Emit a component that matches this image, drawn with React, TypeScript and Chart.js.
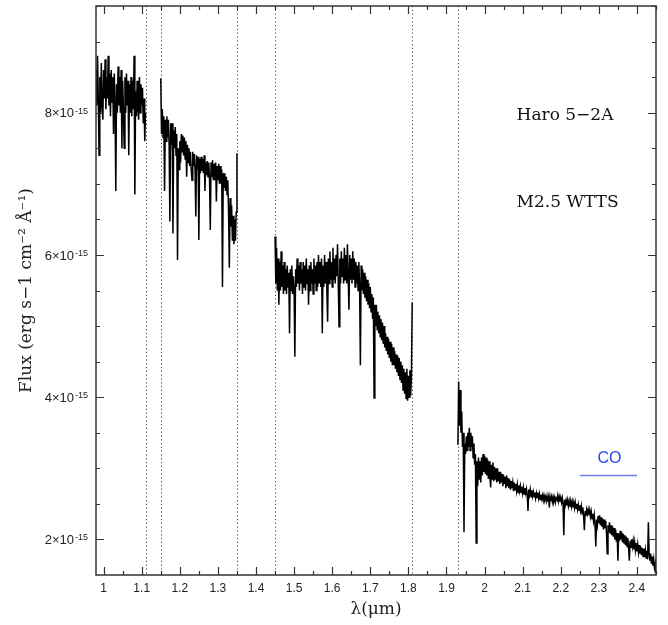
import React, { useEffect, useRef } from "react";
import { Chart, registerables } from "chart.js";

Chart.register(...registerables);

// Wavelength sampling of the extracted spectrum (micron)
const STEP = 0.002;

// Flux (10^-15 erg s-1 cm-2 A-1) per order, sampled every STEP from its start
const order1Start = 0.98;
const order1Flux = [
  8.6, 8.1, 8.8, 8.2, 7.4, 8.5, 8.0, 8.7, 8.1, 7.9,
  8.6, 8.2, 8.75, 8.05, 8.5, 8.2, 8.8, 8.1, 8.55, 7.95,
  8.6, 8.15, 8.5, 7.7, 8.55, 8.1, 6.9, 8.4, 8.0, 8.65,
  8.1, 8.5, 8.0, 8.6, 7.5, 8.45, 8.05, 7.5, 8.5, 8.0,
  8.55, 8.1, 8.45, 7.4, 8.4, 8.0, 8.5, 7.95, 8.45, 8.05,
  8.8, 6.85, 8.3, 7.95, 8.45, 8.05, 7.9, 8.5, 8.0, 8.4,
  8.1, 8.35, 7.85, 8.2, 7.6, 8.0,
];

const order2Start = 1.15;
const order2Flux = [
  8.48, 7.7, 8.05, 7.65, 7.95, 6.9, 7.9, 7.6, 7.95, 7.65,
  7.9, 7.55, 6.47, 7.85, 7.55, 7.85, 6.3, 7.75, 7.5, 7.8,
  7.4, 7.7, 5.93, 7.5, 7.2, 7.6, 7.3, 7.7, 7.45, 7.68,
  7.4, 7.65, 7.35, 7.6, 7.1, 7.55, 7.3, 7.5, 7.25, 7.45,
  7.2, 7.05, 7.45, 7.25, 7.42, 7.2, 6.54, 7.4, 7.2, 7.38,
  6.21, 7.35, 7.15, 7.38, 7.18, 7.35, 7.15, 7.4, 6.9, 7.3,
  7.12, 7.32, 7.1, 7.3, 7.08, 6.35, 7.3, 7.1, 7.33, 7.05,
  7.28, 7.05, 7.3, 6.75, 7.25, 7.05, 7.28, 7.0, 7.25, 7.0,
  7.2, 5.55, 7.15, 6.95, 7.15, 6.9, 7.1, 6.85, 7.05, 6.6,
  5.82, 6.8, 6.4, 6.7, 6.2, 6.55, 6.15, 6.5, 6.2, 6.6,
  7.43,
];

const order3Start = 1.45;
const order3Flux = [
  6.26, 5.6, 6.1, 5.5, 5.95, 5.3, 5.9, 5.5, 6.05, 5.55,
  5.85, 5.45, 5.9, 5.5, 5.8, 5.45, 5.85, 5.55, 5.75, 4.9,
  5.8, 5.5, 5.85, 5.45, 5.7, 5.5, 4.57, 5.8, 5.55, 5.95,
  5.6, 5.85, 5.5, 5.9, 5.6, 5.8, 5.45, 5.9, 5.55, 5.85,
  5.5, 5.95, 5.6, 5.8, 5.3, 5.85, 5.5, 5.9, 5.6, 5.8,
  5.45, 5.95, 5.6, 5.85, 5.5, 5.9, 5.55, 6.0, 5.6, 5.9,
  5.55, 5.95, 4.9, 5.85, 5.55, 6.0, 5.6, 5.9, 5.5, 5.06,
  5.95, 5.6, 6.05, 5.65, 5.9, 5.55, 6.1, 5.65, 5.95, 5.6,
  6.0, 5.7, 6.15, 5.6, 4.99, 5.95, 5.6, 6.05, 5.7, 5.95,
  5.6, 6.1, 5.65, 6.0, 5.6, 6.15, 5.7, 5.23, 6.0, 5.65,
  5.95, 5.6, 6.05, 5.65, 5.95, 5.55, 5.9, 5.6, 5.85, 5.5,
  5.9, 5.55, 4.45, 5.85, 5.5, 5.8, 5.45, 5.75, 5.4, 5.7,
  5.35, 5.65, 5.3, 5.6, 5.25, 5.55, 5.2, 5.45, 5.1, 5.4,
  3.99, 5.3, 5.0, 5.3, 4.95, 5.2, 4.9, 5.15, 4.85, 5.1,
  4.8, 5.05, 4.75, 5.0, 4.7, 4.9, 4.65, 4.85, 4.6, 4.82,
  4.55, 4.78, 4.5, 4.75, 4.45, 4.7, 4.45, 4.65, 4.4, 4.6,
  4.35, 4.58, 4.3, 4.55, 4.25, 4.5, 4.2, 4.45, 4.1, 4.4,
  4.05, 4.35, 3.98, 4.4, 3.95, 4.3, 4.0, 4.38, 4.02, 4.3,
  5.33,
];

const order4Start = 1.93;
const order4Flux = [
  3.33, 4.22, 3.6, 4.1, 3.5, 3.8, 3.3, 3.5, 2.1, 3.35,
  3.2, 3.45, 3.25, 3.5, 3.3, 3.57, 3.25, 3.5, 3.3, 3.45,
  3.15, 3.35, 3.05, 3.2, 1.95, 3.1, 2.75, 3.15, 2.85, 3.1,
  2.8, 3.15, 2.9, 3.2, 2.95, 3.18, 2.92, 3.15, 2.9, 3.12,
  2.85, 3.1, 2.88, 2.73, 3.05, 2.85, 3.08, 2.82, 3.02, 2.85,
  3.0, 2.8, 3.0, 2.82, 2.95, 2.78, 2.95, 2.8, 2.92, 2.75,
  2.9, 2.78, 2.88, 2.72, 2.9, 2.75, 2.86, 2.72, 2.84, 2.7,
  2.82, 2.72, 2.8, 2.68, 2.8, 2.7, 2.78, 2.68, 2.77, 2.66,
  2.76, 2.68, 2.75, 2.66, 2.74, 2.65, 2.73, 2.64, 2.72, 2.65,
  2.71, 2.62, 2.4, 2.7, 2.63, 2.7, 2.6, 2.69, 2.61, 2.67,
  2.6, 2.66, 2.58, 2.65, 2.59, 2.66, 2.58, 2.64, 2.56, 2.63,
  2.57, 2.62, 2.55, 2.62, 2.56, 2.6, 2.54, 2.61, 2.53, 2.59,
  2.45, 2.6, 2.54, 2.6, 2.53, 2.6, 2.54, 2.59, 2.52, 2.58,
  2.56, 2.62, 2.54, 2.6, 2.53, 2.59, 2.52, 2.58, 2.5, 2.06,
  2.56, 2.49, 2.55, 2.48, 2.55, 2.47, 2.54, 2.46, 2.54, 2.46,
  2.53, 2.45, 2.52, 2.44, 2.52, 2.44, 2.5, 2.42, 2.49, 2.41,
  2.48, 2.4, 2.47, 2.36, 2.45, 2.32, 2.13, 2.4, 2.33, 2.42,
  2.36, 2.42, 2.34, 2.41, 2.32, 2.39, 2.29, 2.36, 2.26, 2.34,
  2.2, 1.9, 2.28, 2.2, 2.33, 2.23, 2.34, 2.2, 2.31, 2.18,
  2.29, 2.14, 2.28, 2.16, 2.26, 2.1, 1.8, 2.2, 2.1, 2.24,
  2.08, 2.2, 2.06, 2.18, 2.04, 2.16, 2.0, 2.14, 1.97, 2.09,
  1.7, 2.08, 1.98, 2.12, 2.0, 2.1, 1.96, 2.08, 1.95, 2.06,
  1.92, 2.04, 1.9, 2.02, 1.88, 1.7, 1.98, 1.88, 2.0, 1.9,
  1.98, 1.86, 1.96, 1.85, 1.95, 1.83, 1.93, 1.82, 1.92, 1.8,
  1.9, 1.78, 1.88, 1.76, 1.87, 1.75, 1.85, 1.74, 1.84, 1.72,
  2.24, 1.8, 1.7, 1.8, 1.66, 1.76, 1.63, 1.72, 1.6, 1.66,
  1.53,
];

// Order boundaries (dotted markers), micron
const orderEdges = [1.11, 1.15, 1.35, 1.45, 1.81, 1.93];

// CO band-head region and its label
const coRange = [2.25, 2.4];
const coLevel = 2.9;
const coLabel = "CO";

// Object name and classification
const objectName = "Haro 5\u22122A";
const objectClass = "M2.5 WTTS";

// Axis ranges and labelled ticks (flux in units of 10^-15)
const xRange = [0.98, 2.45];
const yRange = [1.5, 9.5];
const yTickValues = [2, 4, 6, 8];
const yTickExponent = "-15";

const SERIF = "'DejaVu Serif', serif";
const SANS = "'Liberation Sans', 'DejaVu Sans', sans-serif";

const supDigits: Record<string, string> = {
  "0": "\u2070", "1": "\u00B9", "2": "\u00B2", "3": "\u00B3", "4": "\u2074",
  "5": "\u2075", "6": "\u2076", "7": "\u2077", "8": "\u2078", "9": "\u2079", "-": "\u207B",
};
const sup = (s: string) => s.split("").map((c) => supDigits[c] ?? c).join("");

function orderPoints(start: number, flux: number[]) {
  return flux.map((f, i) => ({ x: +(start + i * STEP).toFixed(4), y: f }));
}

const frameAndTicks = {
  id: "frameAndTicks",
  beforeDatasetsDraw(chart: any) {
    const { ctx, chartArea: a, scales } = chart;
    const x = scales.x;
    ctx.save();
    ctx.strokeStyle = "#444";
    ctx.lineWidth = 1;
    ctx.setLineDash([1.2, 2.6]);
    for (const w of orderEdges) {
      const px = Math.round(x.getPixelForValue(w)) + 0.5;
      ctx.beginPath();
      ctx.moveTo(px, a.top);
      ctx.lineTo(px, a.bottom);
      ctx.stroke();
    }
    ctx.restore();
  },
  afterDraw(chart: any) {
    const { ctx, chartArea: a, scales } = chart;
    const x = scales.x;
    const y = scales.y;
    ctx.save();
    ctx.strokeStyle = "#333";
    ctx.lineWidth = 1.2;

    // ticks on all four sides, pointing inward
    ctx.beginPath();
    for (let k = 20; k <= 49; k++) {
      const v = k * 0.05;
      if (v < xRange[0] || v > xRange[1]) continue;
      const px = Math.round(x.getPixelForValue(v)) + 0.5;
      const len = k % 2 === 0 ? 8 : 4;
      ctx.moveTo(px, a.bottom);
      ctx.lineTo(px, a.bottom - len);
      ctx.moveTo(px, a.top);
      ctx.lineTo(px, a.top + len);
    }
    for (let k = 4; k <= 19; k++) {
      const v = k * 0.5;
      if (v < yRange[0] || v > yRange[1]) continue;
      const py = Math.round(y.getPixelForValue(v)) + 0.5;
      const len = k % 4 === 0 ? 8 : 4;
      ctx.moveTo(a.left, py);
      ctx.lineTo(a.left + len, py);
      ctx.moveTo(a.right, py);
      ctx.lineTo(a.right - len, py);
    }
    ctx.stroke();

    // frame
    ctx.lineWidth = 1.5;
    ctx.strokeRect(a.left, a.top, a.right - a.left, a.bottom - a.top);

    // y tick labels: mantissa x 10 with a raised exponent
    ctx.fillStyle = "#222";
    for (const v of yTickValues) {
      const py = y.getPixelForValue(v);
      ctx.font = `9px ${SANS}`;
      const expW = ctx.measureText(yTickExponent).width;
      const right = a.left - 8;
      ctx.textAlign = "left";
      ctx.textBaseline = "alphabetic";
      ctx.fillText(yTickExponent, right - expW, py + 1);
      ctx.font = `13px ${SANS}`;
      ctx.textAlign = "right";
      ctx.textBaseline = "middle";
      ctx.fillText(`${v}\u00D710`, right - expW - 1, py + 1);
    }

    // annotations
    ctx.fillStyle = "#111";
    ctx.font = `17px ${SERIF}`;
    ctx.textAlign = "left";
    ctx.textBaseline = "alphabetic";
    ctx.fillText(objectName, x.getPixelForValue(2.084), y.getPixelForValue(7.9));
    ctx.fillText(objectClass, x.getPixelForValue(2.084), y.getPixelForValue(6.68));

    ctx.fillStyle = "#2a45f0";
    ctx.font = `16px ${SANS}`;
    ctx.textAlign = "center";
    ctx.fillText(coLabel, x.getPixelForValue((coRange[0] + coRange[1]) / 2 + 0.003), y.getPixelForValue(3.08));
    ctx.restore();
  },
};

export default function App() {
  const canvasRef = useRef<HTMLCanvasElement | null>(null);

  useEffect(() => {
    document.body.style.margin = "0";
    const canvas = canvasRef.current;
    if (!canvas) return;

    const spectrumStyle = {
      borderColor: "#000",
      borderWidth: 1.5,
      pointRadius: 0,
      tension: 0,
      fill: false,
    };

    const chart = new Chart(canvas, {
      type: "line",
      data: {
        datasets: [
          { label: "order 1", data: orderPoints(order1Start, order1Flux), ...spectrumStyle },
          { label: "order 2", data: orderPoints(order2Start, order2Flux), ...spectrumStyle },
          { label: "order 3", data: orderPoints(order3Start, order3Flux), ...spectrumStyle },
          { label: "order 4", data: orderPoints(order4Start, order4Flux), ...spectrumStyle },
          {
            label: "CO",
            data: [
              { x: coRange[0], y: coLevel },
              { x: coRange[1], y: coLevel },
            ],
            borderColor: "#6a7cf2",
            borderWidth: 1.6,
            pointRadius: 0,
          },
        ],
      },
      options: {
        responsive: false,
        animation: false,
        devicePixelRatio: 1,
        layout: { padding: { top: 6, right: 12, left: 0, bottom: 0 } },
        plugins: {
          legend: { display: false },
          tooltip: { enabled: false },
        },
        scales: {
          x: {
            type: "linear",
            min: xRange[0],
            max: xRange[1],
            grid: { display: false, drawTicks: false },
            border: { display: false },
            ticks: {
              stepSize: 0.1,
              includeBounds: false,
              autoSkip: false,
              maxRotation: 0,
              padding: 6,
              color: "#222",
              font: { family: SANS, size: 12 },
              callback: (v: any) => String(+(+v).toFixed(1)),
            },
            title: {
              display: true,
              text: "\u03BB(\u03BCm)",
              color: "#222",
              font: { family: SERIF, size: 17 },
              padding: { top: 0, bottom: 5 },
            },
            afterFit: (s: any) => {
              s.height = 50;
              s.paddingLeft = 0;
              s.paddingRight = 0;
            },
          },
          y: {
            type: "linear",
            min: yRange[0],
            max: yRange[1],
            grid: { display: false, drawTicks: false },
            border: { display: false },
            afterBuildTicks: (s: any) => {
              s.ticks = yTickValues.map((v) => ({ value: v }));
            },
            ticks: { display: false },
            title: {
              display: true,
              text: `Flux (erg s\u22121 cm${sup("-2")} \u00C5${sup("-1")})`,
              color: "#222",
              font: { family: SERIF, size: 17 },
              padding: { top: 16, bottom: 0 },
            },
            afterFit: (s: any) => {
              s.width = 96;
              s.paddingTop = 0;
              s.paddingBottom = 0;
            },
          },
        },
      },
      plugins: [frameAndTicks],
    });

    return () => chart.destroy();
  }, []);

  return (
    <div style={{ width: 668, height: 625, background: "#fff" }}>
      <canvas ref={canvasRef} width={668} height={625} />
    </div>
  );
}
